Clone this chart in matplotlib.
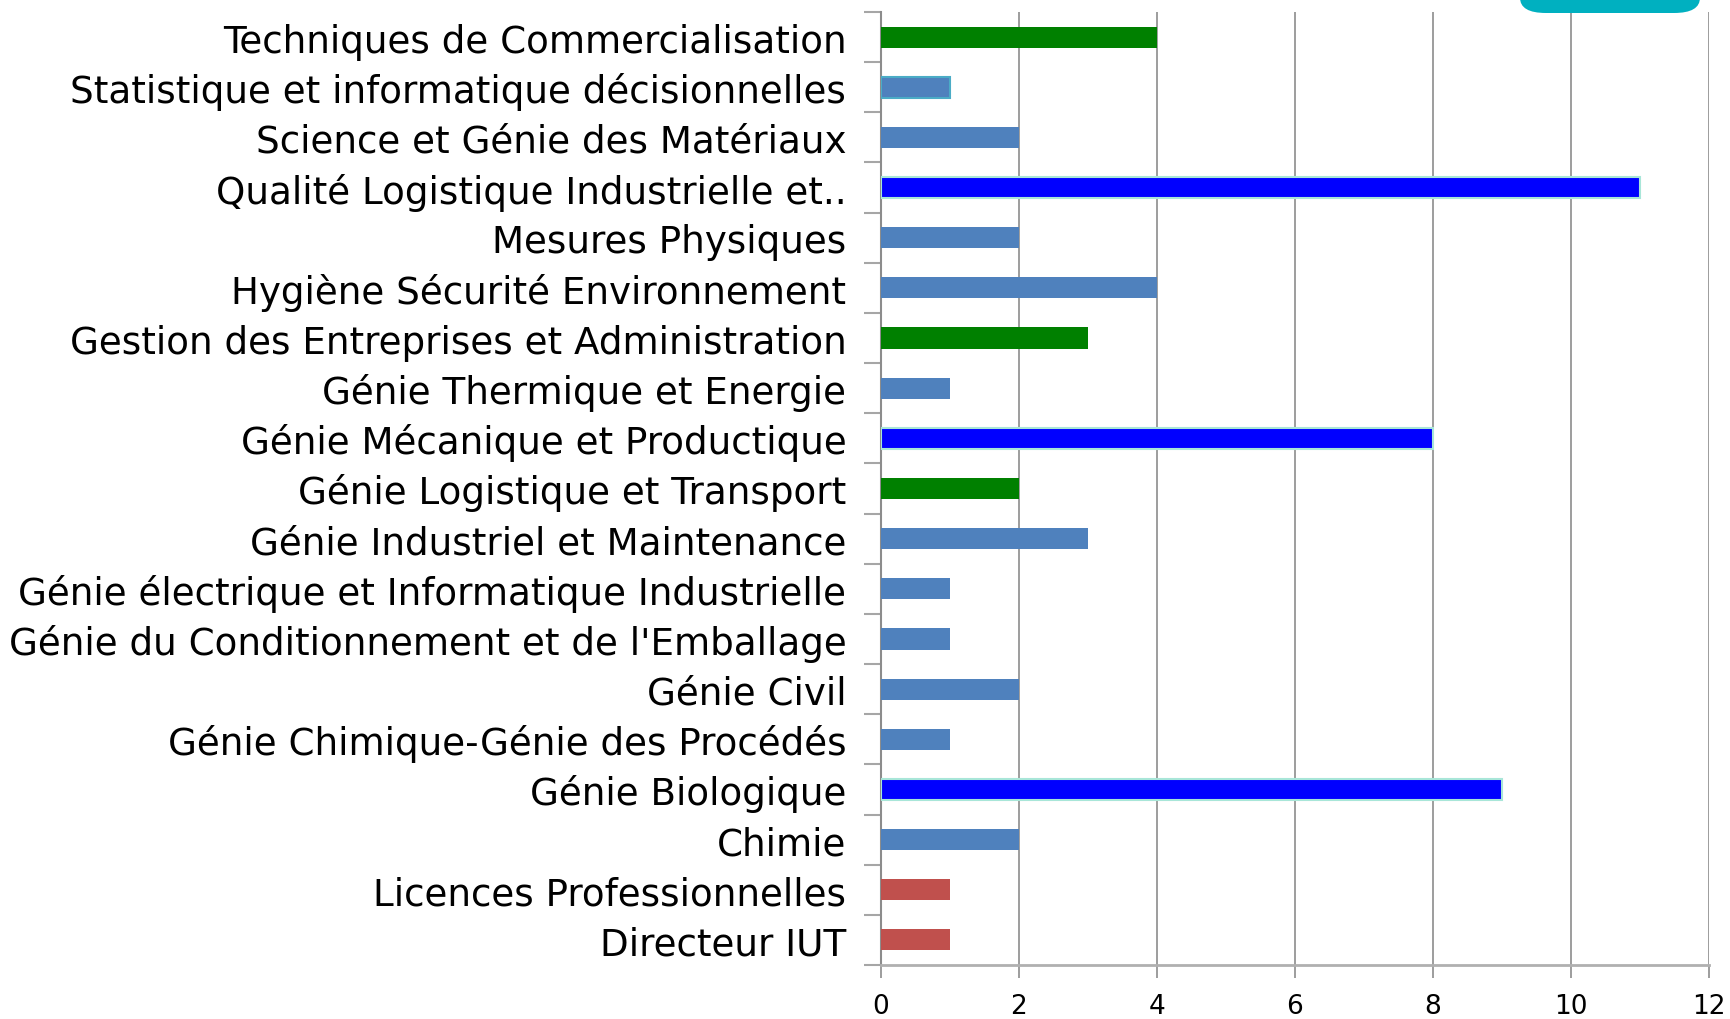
import matplotlib
matplotlib.use("Agg")
import matplotlib.pyplot as plt
from matplotlib.patches import FancyBboxPatch
import numpy as np

categories = [
    "Directeur IUT",
    "Licences Professionnelles",
    "Chimie",
    "Génie Biologique",
    "Génie Chimique-Génie des Procédés",
    "Génie Civil",
    "Génie du Conditionnement et de l'Emballage",
    "Génie électrique et Informatique Industrielle",
    "Génie Industriel et Maintenance",
    "Génie Logistique et Transport",
    "Génie Mécanique et Productique",
    "Génie Thermique et Energie",
    "Gestion des Entreprises et Administration",
    "Hygiène Sécurité Environnement",
    "Mesures Physiques",
    "Qualité Logistique Industrielle et..",
    "Science et Génie des Matériaux",
    "Statistique et informatique décisionnelles",
    "Techniques de Commercialisation",
]
values = [1, 1, 2, 9, 1, 2, 1, 1, 3, 2, 8, 1, 3, 4, 2, 11, 2, 1, 4]
groups = ["r", "r", "s", "b", "s", "s", "s", "s", "s", "g", "b", "s", "g", "s", "s", "b", "s", "s", "g"]
x_ticks = [0, 2, 4, 6, 8, 10, 12]

color_map = {"r": "#C0504D", "s": "#4F81BD", "b": "#0000FF", "g": "#008000"}
edge_map = {"r": "none", "s": "none", "b": "#A8E6D8", "g": "none"}

fig = plt.figure(figsize=(17.31, 10.20), dpi=100)
ax = fig.add_axes([881/1731, 1 - 966/1020, (1709 - 881)/1731, (966 - 13)/1020])

y = np.arange(len(categories))
colors = [color_map[g] for g in groups]
edges = [edge_map[g] for g in groups]
edges[categories.index("Statistique et informatique décisionnelles")] = "#4BACC6"
bars = ax.barh(y, values, height=0.42, color=colors, edgecolor=edges, linewidth=1.5, zorder=3)

ax.set_xlim(0, 12)
ax.set_ylim(-0.5, len(categories) - 0.5)
ax.set_xticks(x_ticks)
ax.set_xticklabels([str(t) for t in x_ticks])
ax.xaxis.grid(True, color="#8C8C8C", linewidth=1.2, zorder=0)

ax.set_yticks(np.arange(-0.5, len(categories), 1))
ax.set_yticklabels([])
ax.set_yticks(y, minor=True)
ax.set_yticklabels(categories, minor=True)
ax.tick_params(axis="y", which="major", length=12, width=1.5, color="#A6A6A6", direction="out")
ax.tick_params(axis="y", which="minor", length=0, pad=25, labelsize=26.8)
ax.tick_params(axis="x", length=9, width=1.2, color="#8C8C8C", labelsize=19, pad=11)

for side in ["top", "right"]:
    ax.spines[side].set_visible(False)
ax.spines["left"].set_color("#8C8C8C")
ax.spines["left"].set_linewidth(1.5)
ax.spines["bottom"].set_color("#B0B0B0")
ax.spines["bottom"].set_linewidth(2)

# decorative teal button at top right
btn = FancyBboxPatch((1520/1731, 1 - 14/1020), 180/1731, 40/1020,
                     boxstyle="round,pad=0,rounding_size=0.015", transform=fig.transFigure,
                     facecolor="#00B0C0", edgecolor="none", zorder=10)
fig.patches.append(btn)

fig.savefig("out.png", dpi=100)
